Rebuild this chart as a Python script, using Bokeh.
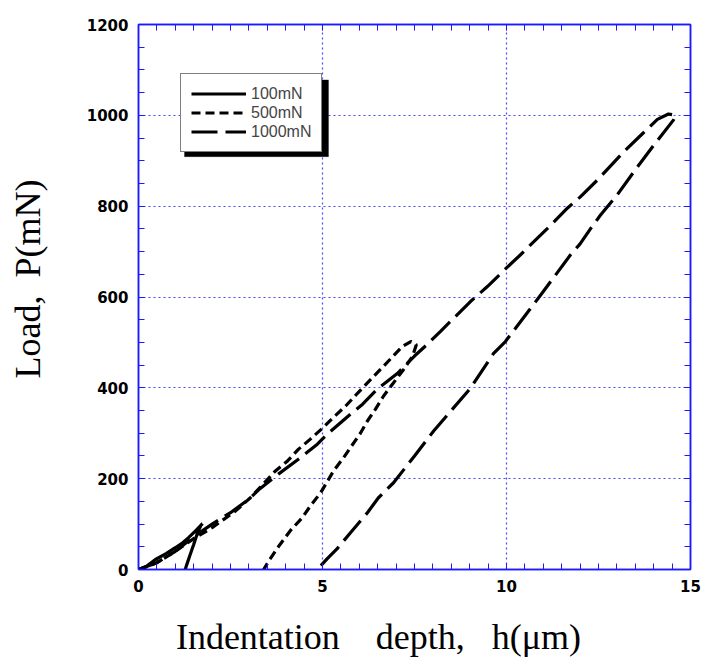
from bokeh.plotting import figure
from bokeh.models import (LinearAxis, FixedTicker, Legend, LegendItem, BoxAnnotation, Range1d)
from bokeh.embed import file_html
from bokeh.resources import INLINE

# ---- data ----
h100 = [0, 0.2, 0.46, 0.75, 1.0, 1.2, 1.36, 1.55, 1.74, 1.7, 1.6, 1.5, 1.4, 1.3, 1.27]
p100 = [0, 6, 22, 35, 48, 59, 70, 85, 101, 98, 80, 55, 32, 8, 0]

h500 = [0, 0.5, 1.0, 1.5, 2.0, 2.64, 3.04, 3.4, 3.72, 4.05, 4.35, 4.67, 5.0, 5.27, 5.63,
        5.95, 6.58, 7.17, 7.4, 7.55, 7.45, 7.2, 6.9, 6.66, 6.44, 6.22, 6.03, 5.57, 5.3,
        4.95, 4.67, 4.45, 4.13, 3.8, 3.55, 3.4]
p500 = [0, 15, 40, 68, 92, 129, 158, 189, 217, 239, 265, 287, 311, 333, 360,
        388, 441, 491, 502, 495, 470, 440, 408, 382, 353, 327, 300, 246, 217,
        169, 140, 114, 86, 50, 20, 0]

h1000 = [0, 0.5, 1.0, 1.5, 2.0, 2.5, 3.0, 3.3, 3.8, 4.4, 4.86, 5.13, 5.76, 6.09, 6.5,
         7.04, 7.5, 7.85, 8.2, 9.02, 9.48, 10.0, 10.38, 11.1, 11.66, 12.0, 12.5, 13.18,
         13.7, 14.1, 14.4, 14.6, 14.54, 14.0, 13.5, 13.0, 12.55, 12.28, 12.0, 11.74,
         11.0, 10.73, 9.97, 9.65, 9.02, 8.02, 7.5, 6.93, 6.52, 6.22, 5.76, 5.4, 5.13,
         4.95, 4.8]
p1000 = [0, 15, 40, 72, 100, 125, 155, 178, 210, 246, 276, 298, 342, 364, 398,
         432, 470, 496, 524, 590, 623, 664, 693, 750, 796, 820, 860, 919,
         960, 991, 1003, 1000, 990, 934, 880, 824, 780, 750, 717, 693,
         612, 583, 502, 476, 399, 305, 250, 191, 158, 125, 81, 46, 24,
         8, 0]

labels = ["100mN", "500mN", "1000mN"]
x_ticks = [0, 5, 10, 15]
y_ticks = [0, 200, 400, 600, 800, 1000, 1200]

BLUE = "#1a1aff"
NB = "\u00a0"

p = figure(width=705, height=659, output_backend="svg", toolbar_location=None,
           x_range=Range1d(0, 15), y_range=Range1d(0, 1200),
           min_border_left=138, min_border_right=15, min_border_top=24, min_border_bottom=90)
p.background_fill_color = "white"
p.border_fill_color = "white"
p.outline_line_color = BLUE
p.outline_line_width = 1.5

r1 = p.line(h100, p100, line_color="black", line_width=3.2)
r2 = p.line(h500, p500, line_color="black", line_width=3.2, line_dash="9 5")
r3 = p.line(h1000, p1000, line_color="black", line_width=3.2, line_dash="26 8")

def style_axis(ax, show_labels=True):
    ax.axis_line_color = BLUE
    ax.axis_line_width = 1.5
    ax.major_tick_line_color = BLUE
    ax.minor_tick_line_color = BLUE
    ax.major_tick_in = 6
    ax.major_tick_out = 0
    ax.minor_tick_in = 6
    ax.minor_tick_out = 0
    ax.major_label_text_font = "DejaVu Sans"
    ax.major_label_text_font_style = "bold"
    ax.major_label_text_font_size = "15px"
    ax.major_label_text_color = "black"
    ax.major_label_standoff = 10
    if not show_labels:
        ax.major_label_text_font_size = "0px"
        ax.major_label_text_alpha = 0

xt = FixedTicker(ticks=x_ticks, minor_ticks=[i * 0.5 for i in range(31)])
yt = FixedTicker(ticks=y_ticks, minor_ticks=[i * 50 for i in range(25)])

p.xaxis.ticker = xt
p.yaxis.ticker = yt
style_axis(p.xaxis[0])
style_axis(p.yaxis[0])
p.xaxis.axis_label = "Indentation" + NB * 4 + "depth," + NB * 3 + "h(\u03bcm)" + NB * 8
p.yaxis.axis_label = NB * 4 + "Load," + NB * 2 + "P(mN)"
for ax in (p.xaxis[0], p.yaxis[0]):
    ax.axis_label_text_font = "Liberation Serif"
    ax.axis_label_text_font_size = "36px"
    ax.axis_label_text_font_style = "normal"
    ax.axis_label_text_color = "black"
p.xaxis.axis_label_standoff = 22
p.yaxis.axis_label_standoff = 36

top = LinearAxis(ticker=xt)
style_axis(top, False)
right = LinearAxis(ticker=yt)
style_axis(right, False)
p.add_layout(top, "above")
p.add_layout(right, "right")

p.xgrid.ticker = FixedTicker(ticks=[5, 10])
p.ygrid.ticker = FixedTicker(ticks=[200, 400, 600, 800, 1000])
for g in (p.xgrid[0], p.ygrid[0]):
    g.grid_line_color = BLUE
    g.grid_line_dash = "2 3"
    g.grid_line_width = 1.2
    g.grid_line_alpha = 0.8

# legend shadow
shadow = BoxAnnotation(left=1.25, right=5.163, top=1078, bottom=909,
                       fill_color="black", fill_alpha=1, line_color="black", level="overlay")
p.add_layout(shadow)

legend = Legend(items=[LegendItem(label=labels[0], renderers=[r1]),
                       LegendItem(label=labels[1], renderers=[r2]),
                       LegendItem(label=labels[2], renderers=[r3])],
                location=(42, 417), border_line_color="black", border_line_width=1,
                background_fill_color="white", background_fill_alpha=1,
                label_text_font="Liberation Sans", label_text_font_size="16px",
                glyph_width=55, glyph_height=19, label_height=19, spacing=0,
                padding=10, margin=0, label_standoff=5)
p.add_layout(legend, "center")

open("out.html", "w").write(file_html(p, INLINE))
